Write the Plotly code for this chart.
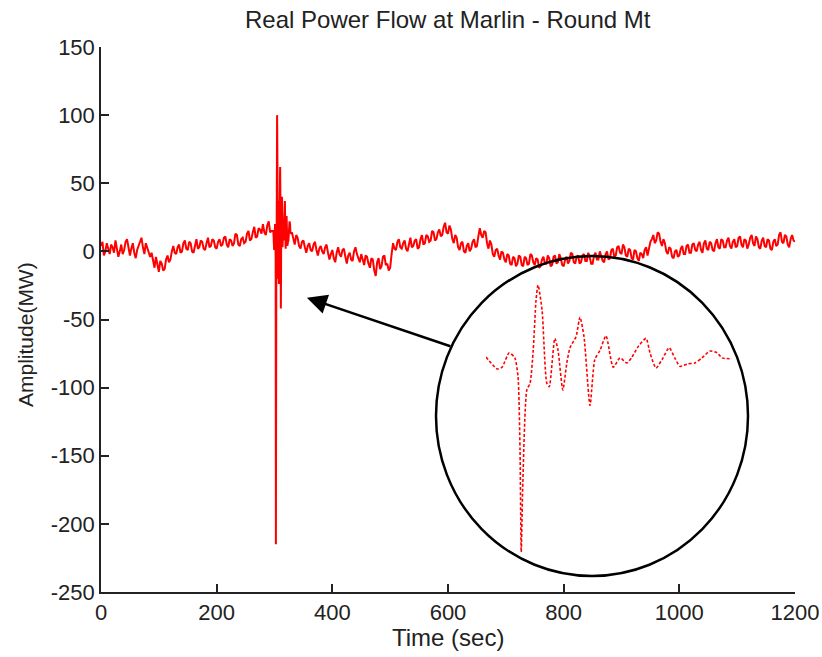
import numpy as np
import plotly.graph_objects as go

# ---- data ----
t_before = np.arange(0, 296, 2.5).tolist()          # 0 .. 295 s
p_before = [4, 7, -3, 0, 6, 1, -2, 5, 3, -1, 8, 2, -4, 0, 5, -2, 1, 7, 9, 3,
            -3, 2, 6, -1, -5, 1, 4, 8, 10, 3, -2, 6, 3, -1, -4, -1, -8, -12, -4, -10,
            -15, -7, -9, -14, -13, -6, -3, -8, -6, 0, 4, -1, -2, 3, 5, -1, 0, 6, 8, 2,
            1, 7, 6, 0, -1, 4, 9, 2, 3, 8, 7, 2, 1, 6, 10, 3, 4, 9, 8, 3,
            2, 7, 9, 4, 5, 10, 11, 5, 3, 9, 8, 4, 6, 13, 12, 5, 4, 9, 10, 6,
            7, 13, 15, 8, 9, 14, 18, 10, 11, 17, 16, 13, 20, 14, 12, 19, 22, 14, 15]

event_t = [298.0, 299.4, 300.0, 300.9, 301.6, 302.0, 302.25, 302.4, 302.6, 303.1,
           303.5, 303.9, 304.25, 304.5, 305.0, 305.6, 305.9, 306.6, 307.0, 307.6,
           308.1, 308.5, 309.25, 309.75, 310.25, 311.0, 311.6, 312.25, 313.0, 313.9,
           314.75, 315.6, 316.25, 317.0, 318.0, 318.5, 319.25, 320.0, 320.9, 321.6,
           322.25, 323.25, 324.1, 325.0, 326.0, 326.9, 327.5, 328.75]
event_p = [15, 1, 3, 20, 14, -8, -95, -215, -134, -24,
           -16, 23, 82, 100, 71, -16, -20, 37, 23, -24,
           8, 26, 39, 62, 39, -42, 12, 23, 40, 3,
           14, 8, 15, 27, 37, 20, 2, 12, 26, 14,
           4, 7, 8, 14, 22, 20, 14, 13]

t_after = np.arange(330, 1200.1, 2.5).tolist()      # 330 .. 1200 s
p_after = [14, 9, 5, 12, 10, 4, 2, 7, 8, 3, -1, 4, 6, 1, 0, 5, 7, 1, -3, 2,
           4, 0, -2, 3, 5, -1, -6, -2, 1, -5, -8, -1, 3, -2, -4, 1, 2, -4, -9, -3,
           -1, -6, -7, 0, 3, -2, -5, -8, -2, -6, -10, -3, -4, -9, -12, -5, -6, -14, -18, -8,
           -5, -13, -11, -4, -3, -10, -9, -14, -12, -2, 6, 2, 1, 7, 9, 3, 2, 6, 8, 2,
           0, 5, 10, 3, 4, 8, 9, 2, 3, 9, 12, 5, 6, 12, 11, 7, 8, 15, 14, 8,
           9, 14, 16, 11, 12, 18, 21, 14, 13, 19, 16, 9, 6, 12, 10, 3, 1, 6, 7, 0,
           -1, 4, 6, 0, 2, 7, 9, 3, 4, 11, 17, 12, 10, 15, 14, 6, 2, 8, 5, -2,
           -4, 1, 2, -3, -6, 0, -1, -6, -8, -2, -3, -9, -10, -4, -5, -11, -9, -3, -4, -10,
           -11, -4, -5, -10, -9, -2, -3, -8, -10, -5, -6, -12, -11, -6, -4, -9, -9, -3, -5, -11,
           -10, -4, -3, -9, -8, -2, -5, -10, -11, -6, -4, -9, -7, -1, -2, -8, -9, -4, -3, -9,
           -8, -3, -2, -7, -7, -1, -4, -9, -9, -3, -1, -6, -6, 0, -3, -7, -8, -2, 0, -6,
           -5, 1, 2, -4, -3, 3, 4, -1, -2, 5, 3, -3, -4, 2, 1, -5, -6, 1, 0, -5,
           -7, -1, -2, -5, 1, 3, -3, 2, 7, 9, 12, 6, 8, 14, 13, 7, 4, 9, 6, 0,
           -2, 3, 2, -4, -5, 0, 1, -4, -3, 2, 4, -2, -2, 4, 5, -1, -1, 5, 6, 1,
           0, 5, 7, 1, -1, 6, 8, 2, 1, 7, 6, 1, 0, 6, 9, 3, 2, 9, 8, 3,
           3, 8, 10, 4, 2, 7, 9, 3, 4, 10, 11, 5, 3, 9, 8, 2, 5, 10, 12, 6,
           4, 11, 9, 3, 2, 8, 10, 4, 3, 9, 8, 2, 1, 7, 9, 4, 5, 12, 14, 7,
           6, 12, 11, 5, 3, 9, 12, 8, 7]

x_ticks = [0, 200, 400, 600, 800, 1000, 1200]
x_labels = ["0", "200", "400", "600", "800", "1000", "1200"]
y_ticks = [-250, -200, -150, -100, -50, 0, 50, 100, 150]
y_labels = ["-250", "-200", "-150", "-100", "-50", "0", "50", "100", "150"]

time = t_before + event_t + t_after
power = p_before + event_p + p_after

FONT = "Arial, Liberation Sans, sans-serif"

fig = go.Figure()
fig.add_trace(go.Scatter(x=time, y=power, mode="lines",
                         line=dict(color="#ff0000", width=2),
                         showlegend=False, hoverinfo="skip"))
fig.add_trace(go.Scatter(x=event_t, y=event_p, mode="lines",
                         line=dict(color="#ff0000", width=1.6, dash="3px,2px",
                                   shape="spline", smoothing=0.6),
                         xaxis="x2", yaxis="y2",
                         showlegend=False, hoverinfo="skip"))

axis_common = dict(showgrid=False, zeroline=False, showline=True, automargin=False,
                   linecolor="#222222", linewidth=1.5, mirror=False,
                   ticks="inside", ticklen=8, tickwidth=1.5, tickcolor="#222222",
                   tickfont=dict(family=FONT, size=22, color="#222222"))

fig.update_layout(
    width=822, height=657,
    margin=dict(l=101, r=27, t=47, b=65, autoexpand=False),
    paper_bgcolor="white", plot_bgcolor="white",
    xaxis=dict(range=[0, 1200], tickvals=x_ticks, ticktext=x_labels, **axis_common),
    yaxis=dict(range=[-250, 150], tickvals=y_ticks, ticktext=y_labels, **axis_common),
    xaxis2=dict(domain=[0.5548, 0.9092], range=[298, 328.75], anchor="y2",
                visible=False),
    yaxis2=dict(domain=[0.0734, 0.5633], range=[-215, 100], anchor="x2",
                visible=False),
    shapes=[dict(type="circle", xref="paper", yref="paper",
                 x0=0.4827, x1=0.9323, y0=0.0294, y1=0.6165,
                 line=dict(color="black", width=2.5), layer="above")],
    annotations=[
        dict(text="Real Power Flow at Marlin - Round Mt", xref="paper", yref="paper",
             x=0.5, y=(592 - 20) / 545, xanchor="center", yanchor="middle",
             showarrow=False, font=dict(family=FONT, size=24, color="#222222")),
        dict(text="Time (sec)", xref="paper", yref="paper",
             x=0.5, y=(592 - 637) / 545, xanchor="center", yanchor="middle",
             showarrow=False, font=dict(family=FONT, size=24, color="#222222")),
        dict(text="Amplitude(MW)", xref="paper", yref="paper",
             x=(25 - 101) / 694, y=(592 - 335) / 545, xanchor="center", yanchor="middle",
             textangle=-90, showarrow=False,
             font=dict(family=FONT, size=21, color="#222222")),
        dict(x=356, y=-34, xref="x", yref="y", ax=145, ay=49, text="",
             showarrow=True, arrowhead=2, arrowsize=1.6, arrowwidth=2.5,
             arrowcolor="black"),
    ],
)

fig.write_html("out.html")
